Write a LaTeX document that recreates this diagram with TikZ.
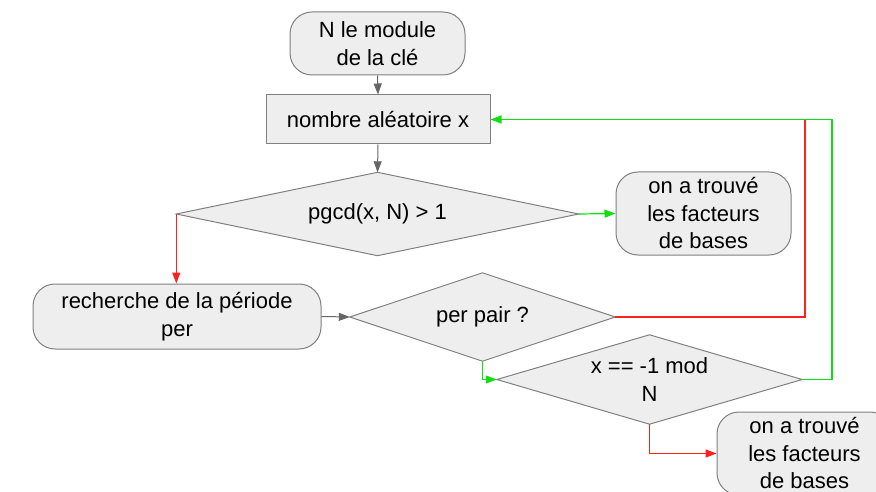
\documentclass[tikz,border=0pt]{standalone}
\usepackage{fontspec}
\setmainfont{Liberation Sans}
\usetikzlibrary{arrows.meta,backgrounds}
\definecolor{boxfill}{HTML}{EEEEEE}
\definecolor{boxline}{HTML}{808080}
\definecolor{arrgray}{HTML}{666666}
\definecolor{myred}{HTML}{FF2020}
\definecolor{mygreen}{HTML}{10E010}
\tikzset{
  every node/.style={font=\fontsize{22}{27.5}\selectfont, align=center, inner sep=0pt},
  roundbox/.style={draw=boxline, fill=boxfill, line width=1pt, rounded corners=22pt},
  rectbox/.style={draw=boxline, fill=boxfill, line width=1pt},
  diabox/.style={draw=none},
  diashape/.style={draw=boxline, fill=boxfill, line width=1pt},
  tip/.style={-{Triangle[length=11pt,width=8pt]}},
  grayarr/.style={tip, color=arrgray, line width=1pt},
  redarr/.style={tip, color=myred, line width=1.3pt},
  greenarr/.style={tip, color=mygreen, line width=1.2pt},
  redline/.style={color=myred, line width=1.2pt},
}
\begin{document}
\begin{tikzpicture}[x=1pt,y=-1pt]
\useasboundingbox (0,0) rectangle (876,492);
\node[roundbox, minimum width=175pt, minimum height=63pt] (start) at (377.5,43.5) {N le module\\de la clé};
\node[rectbox, minimum width=224pt, minimum height=49pt] (rand) at (378,119.5) {nombre aléatoire x};
\node[diabox, minimum width=402pt, minimum height=83pt] (d1) at (377.5,214) {pgcd(x, N) > 1};
\node[roundbox, minimum width=175pt, minimum height=83pt] (f1) at (703.5,213.5) {on a trouvé\\les facteurs\\de bases};
\node[roundbox, minimum width=288pt, minimum height=65pt] (rech) at (177,316.5) {recherche de la période\\per};
\node[diabox, minimum width=265pt, minimum height=88pt] (d2) at (482.5,317) {per pair ?};
\node[diabox, minimum width=305pt, minimum height=89pt] (d3) at (649.5,379.5) {x == -1 mod\\N};
\node[roundbox, minimum width=175pt, minimum height=83pt] (f2) at (804.5,453.5) {on a trouvé\\les facteurs\\de bases};
\begin{scope}[on background layer]
\foreach \d in {d1,d2,d3}{
  \path[diashape] (\d.west) -- (\d.north) -- (\d.east) -- (\d.south) -- cycle;
}
\end{scope}
\coordinate (rx) at (805,0);
\coordinate (gx) at (832,0);
\draw[grayarr] (start.south) -- (rand.north);
\draw[grayarr] (rand.south) -- (d1.north);
\draw[greenarr] (d1.east) -- (f1.west);
\draw[redarr] (d1.west) -- (d1.west |- rech.north);
\draw[grayarr] (rech.east) -- (d2.west);
\draw[redline] (d2.east) -| (rx |- rand.east);
\draw[greenarr] (d3.east) -| (gx |- rand.east) -- (rand.east);
\draw[greenarr] (d2.south) |- (d3.west);
\draw[redarr] (d3.south) |- (f2.west);
\end{tikzpicture}
\end{document}
